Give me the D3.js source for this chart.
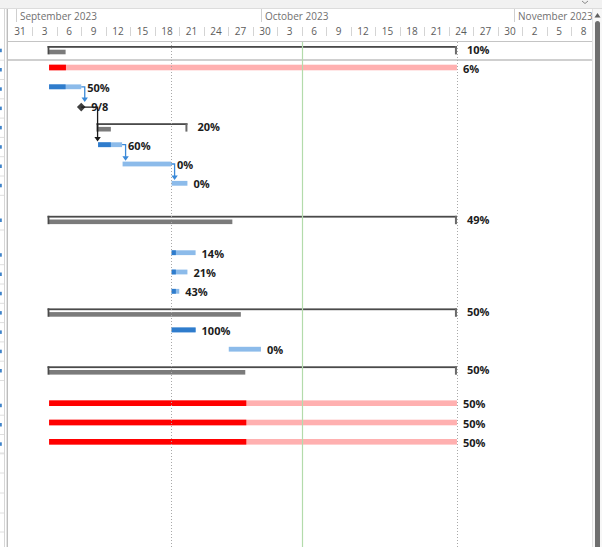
<!DOCTYPE html>
<html><head><meta charset="utf-8">
<script src="https://cdn.jsdelivr.net/npm/d3@7"></script>
<style>
html,body{margin:0;padding:0;background:#fff;overflow:hidden}
svg{display:block}
</style></head><body>
<svg id="c" width="602" height="547"></svg>
<script>
// ---------- data ----------
const rowKinds = ["summary","critical","task","milestone","summary","task","task","task","blank",
  "summary","blank","task","task","task","summary","task","task","summary","blank","critical","critical","critical"];
const startDates = ["2023-09-05","2023-09-05","2023-09-05","2023-09-09","2023-09-11","2023-09-11","2023-09-14","2023-09-20",null,
  "2023-09-05",null,"2023-09-20","2023-09-20","2023-09-20","2023-09-05","2023-09-20","2023-09-27","2023-09-05",null,
  "2023-09-05","2023-09-05","2023-09-05"];
const finishDates = ["2023-10-25","2023-10-25","2023-09-09","2023-09-09","2023-09-22","2023-09-14","2023-09-20","2023-09-22",null,
  "2023-10-25",null,"2023-09-23","2023-09-22","2023-09-21","2023-10-25","2023-09-23","2023-10-01","2023-10-25",null,
  "2023-10-25","2023-10-25","2023-10-25"];
const progressDates = ["2023-09-07T02:00","2023-09-07T03:00","2023-09-07T02:00",null,"2023-09-12T15:00","2023-09-12T15:00",null,null,null,
  "2023-09-27T12:00",null,"2023-09-20T14:00","2023-09-20T14:00","2023-09-20T14:00","2023-09-28T13:00","2023-09-23",null,"2023-09-29T02:00",null,
  "2023-09-29T05:00","2023-09-29T05:00","2023-09-29T05:00"];
const barLabels = ["10%","6%","50%","9/8","20%","60%","0%","0%","","49%","","14%","21%","43%","50%","100%","0%","50%","","50%","50%","50%"];
const links = [[2,3],[3,5],[5,6],[6,7]];
const monthStarts = ["2023-09-01","2023-10-01","2023-11-01"];
const monthLabels = ["September 2023","October 2023","November 2023"];
const dayCellStarts = ["2023-08-31","2023-09-03","2023-09-06","2023-09-09","2023-09-12","2023-09-15","2023-09-18","2023-09-21",
  "2023-09-24","2023-09-27","2023-09-30","2023-10-03","2023-10-06","2023-10-09","2023-10-12","2023-10-15","2023-10-18",
  "2023-10-21","2023-10-24","2023-10-27","2023-10-30","2023-11-02","2023-11-05","2023-11-08"];
const dayTickLabels = ["31","3","6","9","12","15","18","21","24","27","30","3","6","9","12","15","18","21","24","27","30","2","5","8"];
const gridDottedDates = ["2023-09-20","2023-10-25"];
const statusDate = "2023-10-06";

// ---------- setup ----------
const pD = d3.timeParse("%Y-%m-%d"), pT = d3.timeParse("%Y-%m-%dT%H:%M");
const parse = s => s == null ? null : (s.length > 10 ? pT(s) : pD(s));
const svg = d3.select("#c");
const W = 602, H = 547;
const chartL = 8, chartR = 592, headB = 42;
const pxPerDay = 8.167;
const x = d3.scaleTime()
  .domain([pD("2023-08-31"), pD("2023-11-10")])
  .range([7.75, 7.75 + 71 * pxPerDay]);
const heights = rowKinds.map(k => k === "blank" ? 15.4 : 19.3);
const yc = [];
heights.forEach((h, i) => { yc.push(i === 0 ? 48.2 : yc[i - 1] + (heights[i - 1] + h) / 2); });

const FONT = "'Open Sans','Noto Sans',sans-serif";
const col = {
  sumLine: "#4a4a4a", sumProg: "#7b7b7b",
  critRem: "#ffb0b0", critProg: "#ff0000",
  taskRem: "#8cbbea", taskProg: "#2f7ccc",
  mile: "#3f3f3f", linkBlue: "#3a89d8", linkBlack: "#1a1a1a"
};

svg.append("rect").attr("width", W).attr("height", H).attr("fill", "#fff");

// ---------- header ----------
svg.append("rect").attr("x", 0).attr("y", 0).attr("width", W).attr("height", 8).attr("fill", "#f1f1f1");
svg.append("line").attr("x1", 0).attr("x2", W).attr("y1", 8.5).attr("y2", 8.5).attr("stroke", "#dcdcdc");
svg.append("line").attr("x1", chartL).attr("x2", chartR).attr("y1", 41.5).attr("y2", 41.5).attr("stroke", "#c4c4c4");

const hdr = svg.append("g");
hdr.selectAll("line.m").data(monthStarts).join("line")
  .attr("x1", d => Math.round(x(pD(d))) + 0.5).attr("x2", d => Math.round(x(pD(d))) + 0.5)
  .attr("y1", 9).attr("y2", 22).attr("stroke", "#cfcfcf");
hdr.selectAll("text.m").data(monthStarts).join("text")
  .attr("x", d => x(pD(d)) + 4).attr("y", 20)
  .attr("font-family", FONT).attr("font-size", 10).attr("fill", "#6f6f6f")
  .text((d, i) => monthLabels[i]);
hdr.selectAll("line.d").data(dayCellStarts.slice(1)).join("line")
  .attr("x1", d => Math.round(x(pD(d))) + 0.5).attr("x2", d => Math.round(x(pD(d))) + 0.5)
  .attr("y1", 27).attr("y2", 36).attr("stroke", "#d4d4d4");
hdr.selectAll("text.d").data(dayCellStarts).join("text")
  .attr("x", d => x(d3.timeHour.offset(pD(d), 36)))
  .attr("y", 34.5).attr("text-anchor", "middle")
  .attr("font-family", FONT).attr("font-size", 10).attr("fill", "#5c5c5c")
  .text((d, i) => dayTickLabels[i]);

// row separator under first row
svg.append("line").attr("x1", chartL).attr("x2", chartR).attr("y1", 60).attr("y2", 60)
  .attr("stroke", "#bfbfbf").attr("stroke-width", 1.6);

// ---------- bars ----------
const bars = svg.append("g");
rowKinds.forEach((k, i) => {
  if (k === "blank") return;
  const s = parse(startDates[i]), f = parse(finishDates[i]), p = parse(progressDates[i]);
  const y = yc[i];
  if (k === "summary") {
    const x0 = x(s) - 1, x1 = x(f);
    if (p) bars.append("rect").attr("x", x0 + 1.5).attr("y", y + 1.5).attr("width", Math.max(0, x(p) - x0 - 1.5)).attr("height", 4.6).attr("fill", col.sumProg);
    bars.append("rect").attr("x", x0).attr("y", y - 2.2).attr("width", x1 - x0).attr("height", 1.8).attr("fill", col.sumLine);
    bars.append("rect").attr("x", x0).attr("y", y - 2.2).attr("width", 1.8).attr("height", 8.4).attr("fill", col.sumLine);
    bars.append("rect").attr("x", x1 - 2).attr("y", y - 2.2).attr("width", 2).attr("height", 8.4).attr("fill", "#6a6a6a");
  } else if (k === "milestone") {
    const cx = x(s), cy = y + 1, r = 4.3;
    bars.append("path").attr("d", `M${cx},${cy - r}L${cx + r},${cy}L${cx},${cy + r}L${cx - r},${cy}Z`).attr("fill", col.mile);
  } else {
    const crit = k === "critical";
    const h = crit ? 5.6 : 4.8;
    const x0 = x(s) + 0.5, x1 = x(f);
    bars.append("rect").attr("x", x0).attr("y", y - h / 2).attr("width", x1 - x0).attr("height", h).attr("fill", crit ? col.critRem : col.taskRem);
    if (p) bars.append("rect").attr("x", x0).attr("y", y - h / 2).attr("width", Math.min(x1, x(p)) - x0).attr("height", h).attr("fill", crit ? col.critProg : col.taskProg);
  }
});

// ---------- links ----------
const lk = svg.append("g");
links.forEach(([a, b]) => {
  const pm = rowKinds[a] === "milestone";
  const xf = x(parse(finishDates[a]));
  const y0 = yc[a] + (pm ? 1 : 0);
  const xv = Math.max(xf + 3.5, x(parse(startDates[b])));
  const sm = rowKinds[b] === "milestone";
  const yTop = sm ? yc[b] + 1 - 4.3 : yc[b] - 2.4;
  const tip = yTop - 0.8;
  const c = pm ? col.linkBlack : col.linkBlue;
  lk.append("path").attr("d", `M${xf},${y0}H${xv}V${tip - 4}`).attr("fill", "none").attr("stroke", c).attr("stroke-width", 1.3);
  lk.append("path").attr("d", `M${xv - 3.2},${tip - 4.5}L${xv + 3.2},${tip - 4.5}L${xv},${tip}Z`).attr("fill", c);
});

// ---------- gridlines ----------
const gl = svg.append("g");
gl.selectAll("line.dot").data(gridDottedDates).join("line")
  .attr("x1", d => Math.round(x(pD(d))) + 0.5).attr("x2", d => Math.round(x(pD(d))) + 0.5)
  .attr("y1", headB).attr("y2", H).attr("stroke", "#a9a9a9").attr("stroke-dasharray", "1,2");
gl.append("line")
  .attr("x1", Math.round(x(pD(statusDate))) + 0.5).attr("x2", Math.round(x(pD(statusDate))) + 0.5)
  .attr("y1", headB).attr("y2", H).attr("stroke", "#b3dbab").attr("stroke-width", 1.2);

// ---------- labels ----------
const lb = svg.append("g");
rowKinds.forEach((k, i) => {
  if (k === "blank" || !barLabels[i]) return;
  const f = parse(finishDates[i]);
  const off = (k === "summary" || k === "milestone") ? 10 : 6;
  lb.append("text").attr("x", x(f) + off).attr("y", yc[i] + (k === "summary" ? 1.3 : 0.6))
    .attr("dominant-baseline", "central")
    .attr("font-family", FONT).attr("font-size", 11).attr("font-weight", 700).attr("fill", "#1c1c1c")
    .text(barLabels[i]);
});

// ---------- left table strip ----------
const ls = svg.append("g");
ls.append("rect").attr("x", 0).attr("y", 9).attr("width", 8).attr("height", H - 9).attr("fill", "#fff");
ls.append("line").attr("x1", 4.5).attr("x2", 4.5).attr("y1", 9).attr("y2", H).attr("stroke", "#d6d6d6");
ls.append("line").attr("x1", 7.3).attr("x2", 7.3).attr("y1", 9).attr("y2", H).attr("stroke", "#bdbdbd").attr("stroke-width", 1.4);
rowKinds.forEach((k, i) => {
  if (k === "blank") return;
  ls.append("rect").attr("x", 0).attr("y", yc[i] + 0.5).attr("width", 1.8).attr("height", 3.5).attr("fill", "#3f83c9");
  ls.append("line").attr("x1", 0).attr("x2", 4).attr("y1", yc[i] + 12).attr("y2", yc[i] + 12).attr("stroke", "#dedede");
});
[453, 473, 493, 513, 532].forEach(v => ls.append("line").attr("x1", 0).attr("x2", 4).attr("y1", v).attr("y2", v).attr("stroke", "#dedede"));

// ---------- scrollbar ----------
const sb = svg.append("g");
sb.append("rect").attr("x", 592).attr("y", 9).attr("width", 10).attr("height", H - 9).attr("fill", "#f7f7f7");
sb.append("line").attr("x1", 592.5).attr("x2", 592.5).attr("y1", 9).attr("y2", H).attr("stroke", "#e2e2e2");
sb.append("path").attr("d", "M594.5,17.5L600.5,17.5L597.5,13Z").attr("fill", "#5f5f5f");
sb.append("rect").attr("x", 595).attr("y", 21).attr("width", 5).attr("height", 540).attr("rx", 2.5).attr("fill", "#6e6e6e");
sb.append("path").attr("d", "M582,1L585,3.5L588,1").attr("fill", "none").attr("stroke", "#8a8a8a");
</script>
</body></html>
